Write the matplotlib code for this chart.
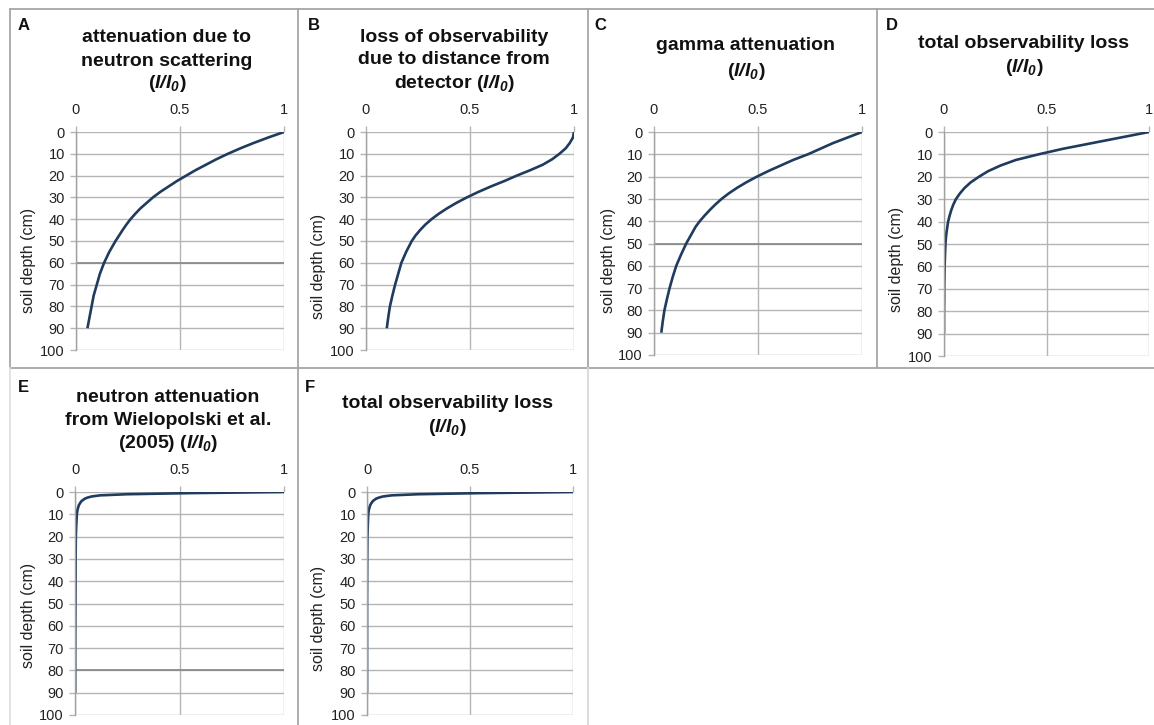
import matplotlib.pyplot as plt
from matplotlib.lines import Line2D

plt.rcParams['font.family'] = ['Liberation Sans', 'DejaVu Sans']
plt.rcParams['mathtext.fontset'] = 'custom'
plt.rcParams['mathtext.rm'] = 'Liberation Sans'
plt.rcParams['mathtext.it'] = 'Liberation Sans:italic'
plt.rcParams['mathtext.bf'] = 'Liberation Sans:bold'
plt.rcParams['mathtext.bfit'] = 'Liberation Sans:italic:bold'

W, H = 1154, 725

# ---- data (I/I0 against soil depth in cm) ----
depth_std = [0, 2.5, 5, 7.5, 10, 12.5, 15, 17.5, 20, 22.5, 25, 27.5, 30, 32.5, 35,
             37.5, 40, 42.5, 45, 47.5, 50, 55, 60, 65, 70, 75, 80, 85, 90]

# A: attenuation due to neutron scattering
frac_a = [1.0, 0.925, 0.855, 0.79, 0.73, 0.675, 0.625, 0.575, 0.53, 0.485, 0.445, 0.405,
          0.37, 0.34, 0.31, 0.285, 0.262, 0.242, 0.224, 0.207, 0.19, 0.16, 0.135, 0.115,
          0.10, 0.085, 0.075, 0.065, 0.055]
# B: loss of observability due to distance from detector
frac_b = [1.0, 0.995, 0.98, 0.96, 0.93, 0.895, 0.85, 0.79, 0.725, 0.665, 0.60, 0.54,
          0.485, 0.435, 0.39, 0.35, 0.315, 0.285, 0.26, 0.238, 0.22, 0.193, 0.17, 0.155,
          0.14, 0.127, 0.115, 0.107, 0.10]
# C: gamma attenuation
frac_c = [1.0, 0.93, 0.86, 0.80, 0.74, 0.67, 0.61, 0.55, 0.495, 0.445, 0.40, 0.36,
          0.325, 0.295, 0.268, 0.243, 0.22, 0.2, 0.185, 0.17, 0.155, 0.13, 0.107, 0.09,
          0.075, 0.062, 0.05, 0.042, 0.035]
# D: total observability loss
frac_d = [1.0, 0.86, 0.72, 0.58, 0.46, 0.35, 0.275, 0.215, 0.17, 0.13, 0.10, 0.077,
          0.058, 0.045, 0.035, 0.027, 0.02, 0.016, 0.012, 0.009, 0.007, 0.005, 0.003,
          0.002, 0.001, 0.001, 0.0, 0.0, 0.0]

# E: neutron attenuation from Wielopolski et al. (2005)
depth_e = [0, 0.5, 1, 1.5, 2, 2.5, 3, 4, 5, 6, 8, 10, 15, 20, 30, 50, 70, 90]
frac_e = [1.0, 0.55, 0.25, 0.12, 0.08, 0.06, 0.047, 0.032, 0.024, 0.018, 0.012,
          0.009, 0.006, 0.004, 0.003, 0.002, 0.001, 0.001]
# F: total observability loss
depth_f = [0, 0.5, 1, 1.5, 2, 2.5, 3, 4, 5, 6, 8, 10, 15, 20, 30, 50, 70, 90]
frac_f = [1.0, 0.55, 0.25, 0.12, 0.078, 0.058, 0.044, 0.029, 0.021, 0.015, 0.009,
          0.006, 0.004, 0.002, 0.001, 0.0, 0.0, 0.0]

x_ticks = [0, 0.5, 1]
x_ticklabels = ['0', '0.5', '1']
y_ticks = [0, 10, 20, 30, 40, 50, 60, 70, 80, 90, 100]

frac = r'$\mathbfit{I/I}_{\mathbfit{0}}$'
panels = [
    dict(letter='A', title=['attenuation due to', 'neutron scattering', '(' + frac + ')'],
         depth=depth_std, value=frac_a),
    dict(letter='B', title=['loss of observability', 'due to distance from', 'detector (' + frac + ')'],
         depth=depth_std, value=frac_b),
    dict(letter='C', title=['gamma attenuation', '(' + frac + ')'],
         depth=depth_std, value=frac_c),
    dict(letter='D', title=['total observability loss', '(' + frac + ')'],
         depth=depth_std, value=frac_d),
    dict(letter='E', title=['neutron attenuation', 'from Wielopolski et al.', '(2005) (' + frac + ')'],
         depth=depth_e, value=frac_e),
    dict(letter='F', title=['total observability loss', '(' + frac + ')'],
         depth=depth_f, value=frac_f),
]

# layout in pixels: axes box (left, right, top, bottom), title centre x, title line ys,
# letter position, ylabel position, darker gridline
layout = {
    'A': dict(box=(76, 284, 132, 350), tx=167, ty=[37, 61, 84], lx=24, ly=25, yl=(28, 260), dark=60),
    'B': dict(box=(366, 574, 132, 350), tx=454, ty=[37, 60, 83], lx=314, ly=25, yl=(318, 266), dark=None),
    'C': dict(box=(654, 862, 132, 355), tx=746, ty=[46, 71], lx=600, ly=25, yl=(608, 260), dark=50),
    'D': dict(box=(944, 1149, 132, 356), tx=1024, ty=[43, 67], lx=892, ly=25, yl=(897, 259), dark=None),
    'E': dict(box=(75, 284, 492, 715), tx=168, ty=[398, 420, 443], lx=23, ly=387, yl=(28, 615), dark=80),
    'F': dict(box=(367, 573, 492, 715), tx=447, ty=[403, 427], lx=310, ly=387, yl=(318, 618), dark=None),
}

line_color = '#1f3b5e'
grid_color = '#b5b5b5'

fig = plt.figure(figsize=(W / 100, H / 100), dpi=100)


def fx(x):
    return x / W


def fy(y):
    return 1 - y / H


for p in panels:
    lay = layout[p['letter']]
    l, r, t, b = lay['box']
    ax = fig.add_axes([fx(l), fy(b), (r - l) / W, (b - t) / H])
    ax.plot(p['value'], p['depth'], color=line_color, lw=1.9,
            solid_capstyle='butt', solid_joinstyle='round')
    ax.set_xlim(0, 1)
    ax.set_ylim(100, 0)
    ax.set_xticks(x_ticks)
    ax.set_xticklabels(x_ticklabels)
    ax.set_yticks(y_ticks)
    ax.xaxis.tick_top()
    ax.tick_params(axis='x', top=True, bottom=False, labeltop=True, labelbottom=False,
                   length=4, width=1, color=grid_color, pad=7, labelsize=10.5, labelcolor='#222222')
    ax.tick_params(axis='y', left=True, length=4, width=1, color=grid_color, pad=4,
                   labelsize=10.5, labelcolor='#222222')
    ax.grid(True, color=grid_color, lw=1)
    ax.set_axisbelow(True)
    for side in ['top', 'bottom', 'right']:
        ax.spines[side].set_visible(False)
    ax.spines['left'].set_color('#a0a0a0')
    ax.spines['left'].set_linewidth(1)
    if lay['dark'] is not None:
        ax.axhline(lay['dark'], color='#8c8c8c', lw=1.3, zorder=1.5)

    for txt, y in zip(p['title'], lay['ty']):
        fig.text(fx(lay['tx']), fy(y), txt, ha='center', va='center',
                 fontsize=14, fontweight='bold', color='#111111')
    fig.text(fx(lay['lx']), fy(lay['ly']), p['letter'], ha='center', va='center',
             fontsize=12, fontweight='bold', color='#111111')
    fig.text(fx(lay['yl'][0]), fy(lay['yl'][1]), 'soil depth (cm)', rotation=90,
             ha='center', va='center', fontsize=11.5, color='#222222')

# panel borders
border = '#a6a6a6'
border_lines = [
    ((10, 1154), (9, 9)),
    ((10, 1154), (368, 368)),
    ((10, 10), (9, 368)),
    ((298, 298), (9, 725)),
    ((588, 588), (9, 368)),
    ((877, 877), (9, 368)),
]
for xs, ys in border_lines:
    fig.add_artist(Line2D([fx(v) for v in xs], [fy(v) for v in ys], color=border, lw=1.3))
fig.add_artist(Line2D([fx(10), fx(10)], [fy(368), fy(725)], color='#e0e0e0', lw=1.3))
fig.add_artist(Line2D([fx(588), fx(588)], [fy(368), fy(725)], color='#d9d9d9', lw=1.3))

fig.savefig('out.png', dpi=100)
